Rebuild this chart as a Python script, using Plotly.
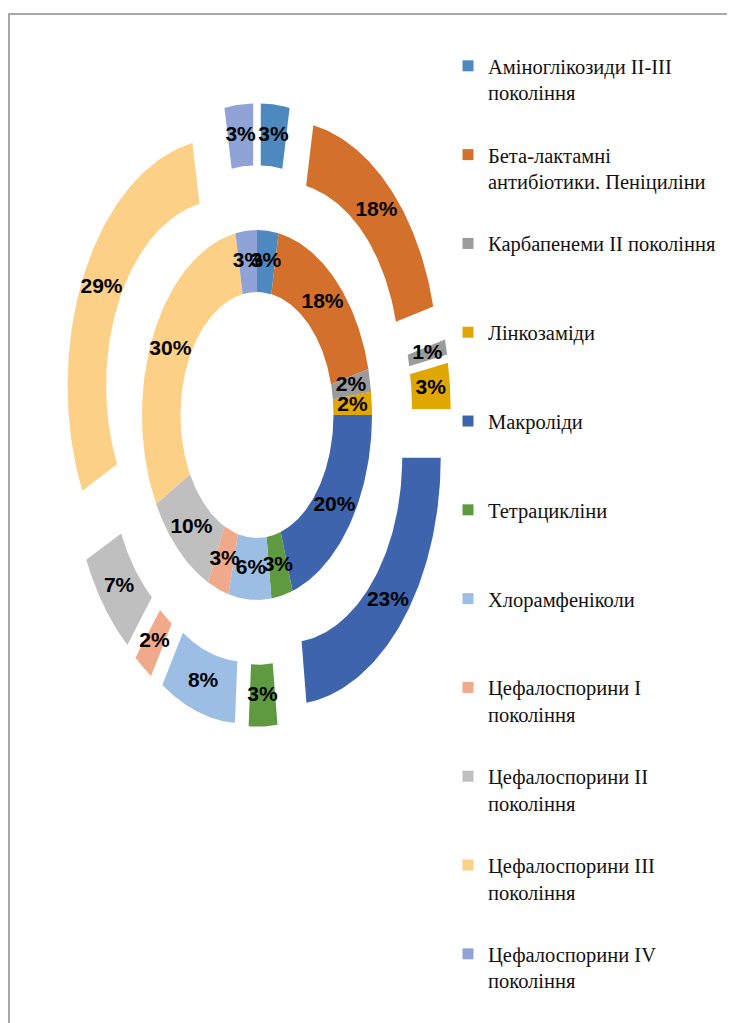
import numpy as np
import plotly.graph_objects as go

# ---- data ----
categories = [
    "Аміноглікозиди II-III<br>покоління",
    "Бета-лактамні<br>антибіотики. Пеніциліни",
    "Карбапенеми II покоління<br> ",
    "Лінкозаміди<br> ",
    "Макроліди<br> ",
    "Тетрацикліни<br> ",
    "Хлорамфеніколи<br> ",
    "Цефалоспорини I<br>покоління",
    "Цефалоспорини II<br>покоління",
    "Цефалоспорини III<br>покоління",
    "Цефалоспорини IV<br>покоління",
]
inner_values = [3, 18, 2, 2, 20, 3, 6, 3, 10, 30, 3]
outer_values = [3, 18, 1, 3, 23, 3, 8, 2, 7, 29, 3]

colors = ["#4D88BE", "#D3702C", "#9B9B9B", "#E0A700", "#3E64AE", "#5F9A40",
          "#9CBEE5", "#F0A98A", "#BFBFBF", "#FDD088", "#8FA3D6"]

# ---- geometry / layout constants (page body adds an 8px offset) ----
W, H = 727, 1015
CX, CY = 249, 407          # ring centre in pixels
XS, YS = 115, 185          # pixels per data unit (reference is horizontally squeezed)
INNER = (0.665, 1.0, 0.0)  # r_in, r_out, explosion
OUTER = (1.0, 1.335, 0.35)

LABEL_FONT = dict(family="Liberation Sans, Arial, sans-serif",
                  size=21, color="#000000", weight="bold")
LEGEND_FONT = dict(family="Liberation Serif, Times New Roman, serif", size=20.5, color="#111111")

fig = go.Figure()


def ring(values, r0, r1, off, ring_name):
    total = float(sum(values))
    start = 0.0
    lx, ly, lt = [], [], []
    for i, v in enumerate(values):
        f = v / total
        a = np.linspace(2 * np.pi * start, 2 * np.pi * (start + f), 80)
        mid = 2 * np.pi * (start + f / 2)
        ox, oy = off * np.sin(mid), off * np.cos(mid)
        xs = np.concatenate([r1 * np.sin(a), r0 * np.sin(a[::-1])]) + ox
        ys = np.concatenate([r1 * np.cos(a), r0 * np.cos(a[::-1])]) + oy
        xs = np.append(xs, xs[0])
        ys = np.append(ys, ys[0])
        name = categories[i].replace("<br> ", "").replace("<br>", " ")
        fig.add_trace(go.Scatter(
            x=xs, y=ys, mode="lines", fill="toself", fillcolor=colors[i],
            line=dict(width=0, color=colors[i]), showlegend=False,
            legendgroup=f"g{i}", name=name,
            hoverinfo="text", hoveron="fills",
            text=f"{ring_name}: {name} — {v}%"))
        rm = (r0 + r1) / 2 + off
        lx.append(rm * np.sin(mid))
        ly.append(rm * np.cos(mid))
        lt.append(f"{v}%")
        start += f
    return lx, ly, lt


labels = []
labels.append(ring(inner_values, *INNER, "Внутрішнє кільце"))
labels.append(ring(outer_values, *OUTER, "Зовнішнє кільце"))

for lx, ly, lt in labels:
    fig.add_trace(go.Scatter(x=lx, y=ly, text=lt, mode="text", textposition="middle center",
                             textfont=LABEL_FONT, showlegend=False, hoverinfo="skip"))

# legend entries
for i, c in enumerate(categories):
    fig.add_trace(go.Scatter(x=[None], y=[None], mode="markers", name=c,
                             marker=dict(symbol="square", size=11, color=colors[i]),
                             legendgroup=f"g{i}", showlegend=True))

fig.update_layout(
    width=W, height=H,
    margin=dict(l=0, r=0, t=0, b=0, autoexpand=False),
    paper_bgcolor="white", plot_bgcolor="white",
    xaxis=dict(range=[-CX / XS, (W - CX) / XS], visible=False, fixedrange=True),
    yaxis=dict(range=[-(H - CY) / YS, CY / YS], visible=False, fixedrange=True),
    showlegend=True,
    legend=dict(x=440 / W, xanchor="left", y=1 - 38 / H, yanchor="top",
                valign="top", tracegroupgap=32.5, font=LEGEND_FONT,
                bgcolor="rgba(0,0,0,0)", traceorder="grouped"),
    shapes=[dict(type="rect", xref="paper", yref="paper",
                 x0=1 / W, x1=1.05, y0=-0.05, y1=1 - 6 / H,
                 line=dict(color="#8C8C8C", width=1.5), fillcolor="rgba(0,0,0,0)",
                 layer="below")],
)

fig.write_html("out.html")
